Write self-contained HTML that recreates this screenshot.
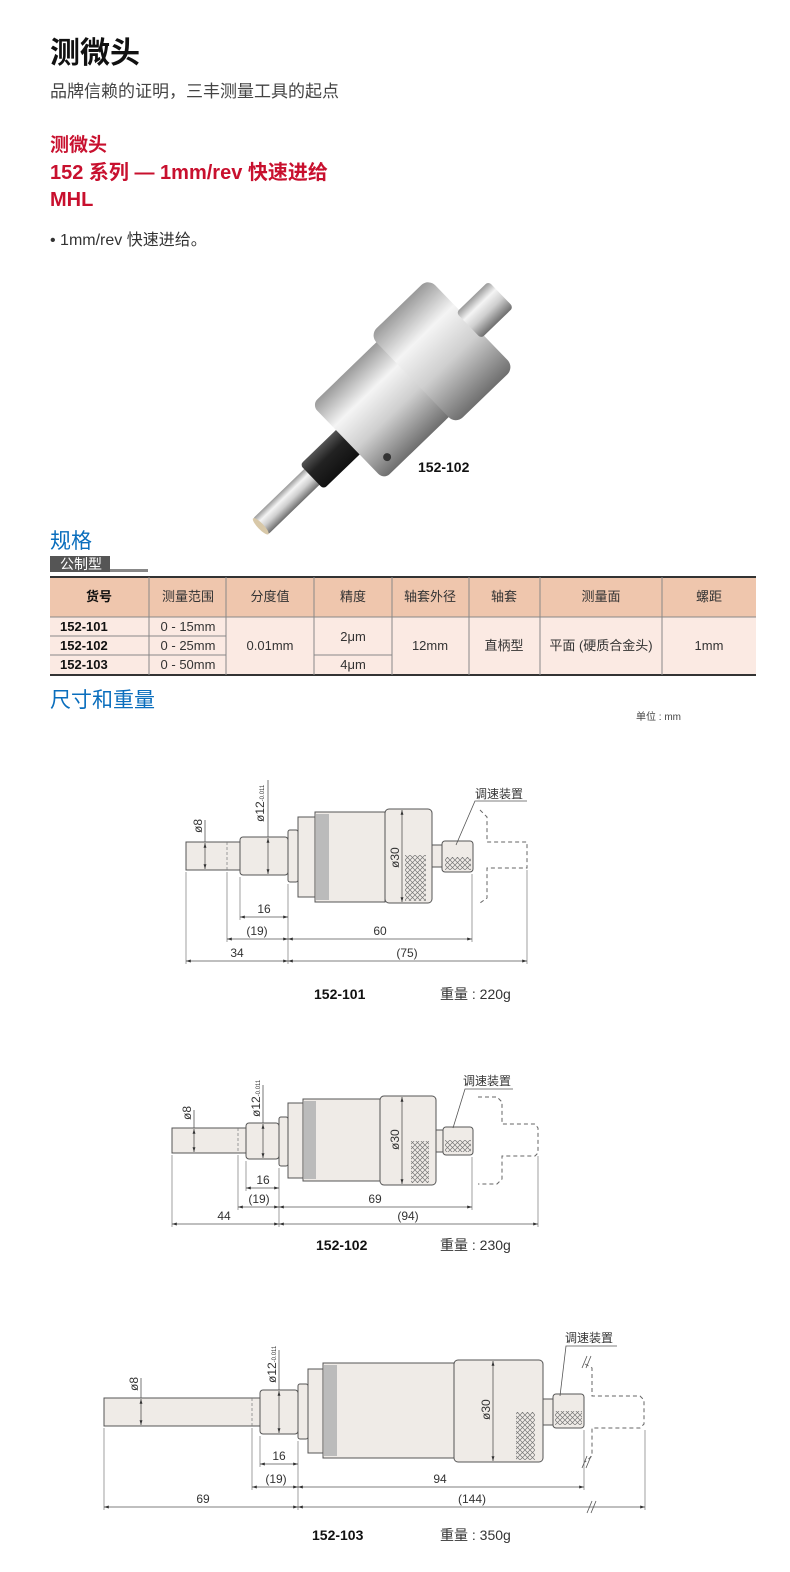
<!DOCTYPE html>
<html><head><meta charset="utf-8"><style>
html,body{margin:0;padding:0;background:#fff}
svg{display:block}
text{font-family:"Liberation Sans","Noto Sans CJK SC",sans-serif}
.d{font-size:12px;fill:#333}
.p{fill:#efebe7;stroke:#555;stroke-width:1}
.l{stroke:#555;stroke-width:0.8;fill:none}
.e{stroke:#777;stroke-width:0.7;fill:none}
.dash{stroke:#666;stroke-width:1;fill:none;stroke-dasharray:4,3}
.t{font-size:13px;fill:#333}
.tb{font-size:13px;fill:#111;font-weight:bold}
</style></head><body>
<svg width="790" height="1572" viewBox="0 0 790 1572" xmlns="http://www.w3.org/2000/svg">
<defs>
<marker id="a" viewBox="0 0 10 10" refX="10" refY="5" markerWidth="6" markerHeight="6" orient="auto-start-reverse"><path d="M0,2 L10,5 L0,8z" fill="#333"/></marker>
<pattern id="h" width="5" height="5" patternUnits="userSpaceOnUse"><path d="M0,0 L5,5 M5,0 L0,5" stroke="#777" stroke-width="0.7"/></pattern>
<linearGradient id="sv" x1="0" y1="0" x2="0" y2="1"><stop offset="0" stop-color="#9a9a9a"/><stop offset=".3" stop-color="#f4f4f4"/><stop offset=".6" stop-color="#cfcfcf"/><stop offset="1" stop-color="#6e6e6e"/></linearGradient>
<linearGradient id="bk" x1="0" y1="0" x2="0" y2="1"><stop offset="0" stop-color="#555"/><stop offset=".4" stop-color="#222"/><stop offset="1" stop-color="#111"/></linearGradient>
</defs>

<!-- header -->
<text x="50" y="63" style="font-size:30px;font-weight:bold" fill="#111">测微头</text>
<text x="50" y="97" style="font-size:17px" fill="#444">品牌信赖的证明，三丰测量工具的起点</text>
<text x="50" y="151" style="font-size:19px;font-weight:bold" fill="#c8102e">测微头</text>
<text x="50" y="179" style="font-size:20px;font-weight:bold" fill="#c8102e">152 系列 — 1mm/rev 快速进给</text>
<text x="50" y="206" style="font-size:20px;font-weight:bold" fill="#c8102e">MHL</text>
<text x="50" y="245" style="font-size:16px" fill="#333">• 1mm/rev 快速进给。</text>

<!-- photo -->
<g transform="translate(260,527) rotate(-44)">
<rect x="0" y="-11" width="80" height="22" fill="url(#sv)" rx="3"/>
<ellipse cx="1" cy="0" rx="3" ry="11" fill="#d8c8a8"/>
<rect x="72" y="-17" width="58" height="34" fill="url(#bk)" rx="4"/>
<rect x="122" y="-52" width="100" height="104" fill="url(#sv)" rx="8"/>
<rect x="158" y="-52" width="50" height="104" fill="url(#sv)" opacity=".8"/>
<rect x="212" y="-62" width="82" height="124" fill="url(#sv)" rx="10"/>
<rect x="290" y="-18" width="45" height="36" fill="url(#sv)" rx="4"/>
<circle cx="140" cy="38" r="4" fill="#333"/>
</g>
<text x="418" y="472" class="tb" style="font-size:14px">152-102</text>

<!-- specs -->
<text x="50" y="548" style="font-size:21px" fill="#0a6ebd">规格</text>
<rect x="50" y="556" width="60" height="16" fill="#555"/>
<text x="60" y="569" style="font-size:14px" fill="#fff">公制型</text>
<rect x="110" y="569" width="38" height="3" fill="#888"/>
<rect x="50" y="577" width="706" height="40" fill="#efc6ad"/>
<rect x="50" y="617" width="706" height="58" fill="#fbeae3"/>
<line x1="50" y1="577" x2="756" y2="577" stroke="#333" stroke-width="2"/>
<line x1="50" y1="675" x2="756" y2="675" stroke="#333" stroke-width="2"/>
<line x1="50" y1="617" x2="756" y2="617" stroke="#888" stroke-width="1"/>
<g stroke="#888" stroke-width="1">
<line x1="149" y1="577" x2="149" y2="675"/><line x1="226" y1="577" x2="226" y2="675"/>
<line x1="314" y1="577" x2="314" y2="675"/><line x1="392" y1="577" x2="392" y2="675"/>
<line x1="469" y1="577" x2="469" y2="675"/><line x1="540" y1="577" x2="540" y2="675"/>
<line x1="662" y1="577" x2="662" y2="675"/>
<line x1="50" y1="636" x2="226" y2="636"/><line x1="50" y1="655" x2="226" y2="655"/>
<line x1="314" y1="655" x2="392" y2="655"/>
</g>
<g text-anchor="middle">
<text x="99" y="601" class="tb">货号</text><text x="188" y="601" class="t">测量范围</text>
<text x="270" y="601" class="t">分度值</text><text x="353" y="601" class="t">精度</text>
<text x="430" y="601" class="t">轴套外径</text><text x="504" y="601" class="t">轴套</text>
<text x="601" y="601" class="t">测量面</text><text x="709" y="601" class="t">螺距</text>
<text x="188" y="631" class="t">0 - 15mm</text><text x="188" y="650" class="t">0 - 25mm</text><text x="188" y="669" class="t">0 - 50mm</text>
<text x="270" y="650" class="t">0.01mm</text><text x="353" y="641" class="t">2μm</text><text x="353" y="669" class="t">4μm</text>
<text x="430" y="650" class="t">12mm</text><text x="504" y="650" class="t">直柄型</text>
<text x="601" y="650" class="t">平面 (硬质合金头)</text><text x="709" y="650" class="t">1mm</text>
</g>
<text x="60" y="631" class="tb">152-101</text><text x="60" y="650" class="tb">152-102</text><text x="60" y="669" class="tb">152-103</text>
<text x="50" y="707" style="font-size:21px" fill="#0a6ebd">尺寸和重量</text>
<text x="636" y="720" style="font-size:10px" fill="#444">单位 : mm</text>

<!-- drawing 1 -->
<g>
<rect class="p" x="186" y="842" width="54" height="28"/>
<rect class="p" x="240" y="837" width="48" height="38" rx="3"/>
<rect class="p" x="288" y="830" width="10" height="52" rx="2"/>
<rect class="p" x="298" y="817" width="17" height="80"/>
<rect class="p" x="315" y="812" width="70" height="90"/>
<rect x="316" y="814" width="13" height="86" fill="#bbb"/>
<rect class="p" x="385" y="809" width="47" height="94" rx="4"/>
<rect x="405" y="855" width="21" height="46" fill="url(#h)"/>
<rect class="p" x="432" y="845" width="10" height="22"/>
<rect class="p" x="442" y="841" width="31" height="31" rx="3"/>
<rect x="445" y="857" width="26" height="13" fill="url(#h)"/>
<path class="dash" d="M480,810 L487,817 V842 H527 V868 H487 V898 L480,903"/>
<line class="e" x1="227" y1="842" x2="227" y2="870" stroke-dasharray="3,2"/>
<line class="l" x1="205" y1="820" x2="205" y2="842"/><line class="l" x1="205" y1="843" x2="205" y2="869" marker-start="url(#a)" marker-end="url(#a)"/>
<text class="d" transform="translate(202,833) rotate(-90)">ø8</text>
<line class="l" x1="268" y1="780" x2="268" y2="837"/><line class="l" x1="268" y1="838" x2="268" y2="874" marker-start="url(#a)" marker-end="url(#a)"/>
<text class="d" transform="translate(264,822) rotate(-90)">ø12<tspan font-size="6">-0.011</tspan></text>
<line class="l" x1="402" y1="810" x2="402" y2="902" marker-start="url(#a)" marker-end="url(#a)"/>
<text class="d" transform="translate(399,868) rotate(-90)">ø30</text>
<line class="e" x1="186" y1="872" x2="186" y2="964"/><line class="e" x1="227" y1="872" x2="227" y2="942"/>
<line class="e" x1="240" y1="877" x2="240" y2="920"/><line class="e" x1="288" y1="884" x2="288" y2="964"/>
<line class="e" x1="472" y1="874" x2="472" y2="942"/><line class="e" x1="527" y1="870" x2="527" y2="964"/>
<line class="l" x1="240" y1="917" x2="288" y2="917" marker-start="url(#a)" marker-end="url(#a)"/>
<line class="l" x1="227" y1="939" x2="288" y2="939" marker-start="url(#a)" marker-end="url(#a)"/>
<line class="l" x1="288" y1="939" x2="472" y2="939" marker-start="url(#a)" marker-end="url(#a)"/>
<line class="l" x1="186" y1="961" x2="288" y2="961" marker-start="url(#a)" marker-end="url(#a)"/>
<line class="l" x1="288" y1="961" x2="527" y2="961" marker-start="url(#a)" marker-end="url(#a)"/>
<g text-anchor="middle" class="d"><text x="264" y="913">16</text><text x="257" y="935">(19)</text><text x="380" y="935">60</text><text x="237" y="957">34</text><text x="407" y="957">(75)</text></g>
<text x="475" y="798" class="d" font-size="12">调速装置</text>
<polyline class="l" points="527,801 475,801 456,845"/>
<text x="314" y="999" class="tb" style="font-size:14px">152-101</text><text x="440" y="999" class="t" fill="#444" style="font-size:14px">重量 : 220g</text>
</g>

<!-- drawing 2 -->
<g>
<rect class="p" x="172" y="1128" width="74" height="25"/>
<rect class="p" x="246" y="1123" width="33" height="36" rx="3"/>
<rect class="p" x="279" y="1117" width="9" height="49" rx="2"/>
<rect class="p" x="288" y="1103" width="15" height="75"/>
<rect class="p" x="303" y="1099" width="77" height="82"/>
<rect x="304" y="1101" width="12" height="78" fill="#bbb"/>
<rect class="p" x="380" y="1096" width="56" height="89" rx="4"/>
<rect x="411" y="1141" width="18" height="42" fill="url(#h)"/>
<rect class="p" x="436" y="1130" width="7" height="22"/>
<rect class="p" x="443" y="1127" width="30" height="28" rx="3"/>
<rect x="445" y="1140" width="26" height="12" fill="url(#h)"/>
<path class="dash" d="M478,1097 H497 L502,1102 V1124 H535 L538,1128 V1153 L535,1156 H502 V1179 L497,1184 H478"/>
<line class="e" x1="238" y1="1128" x2="238" y2="1153" stroke-dasharray="3,2"/>
<line class="l" x1="194" y1="1110" x2="194" y2="1128"/><line class="l" x1="194" y1="1129" x2="194" y2="1152" marker-start="url(#a)" marker-end="url(#a)"/>
<text class="d" transform="translate(191,1120) rotate(-90)">ø8</text>
<line class="l" x1="263" y1="1085" x2="263" y2="1123"/><line class="l" x1="263" y1="1124" x2="263" y2="1158" marker-start="url(#a)" marker-end="url(#a)"/>
<text class="d" transform="translate(260,1117) rotate(-90)">ø12<tspan font-size="6">-0.011</tspan></text>
<line class="l" x1="402" y1="1097" x2="402" y2="1184" marker-start="url(#a)" marker-end="url(#a)"/>
<text class="d" transform="translate(399,1150) rotate(-90)">ø30</text>
<line class="e" x1="172" y1="1155" x2="172" y2="1227"/><line class="e" x1="238" y1="1155" x2="238" y2="1210"/>
<line class="e" x1="246" y1="1161" x2="246" y2="1191"/><line class="e" x1="279" y1="1168" x2="279" y2="1227"/>
<line class="e" x1="472" y1="1157" x2="472" y2="1210"/><line class="e" x1="538" y1="1156" x2="538" y2="1227"/>
<line class="l" x1="246" y1="1188" x2="279" y2="1188" marker-start="url(#a)" marker-end="url(#a)"/>
<line class="l" x1="238" y1="1207" x2="279" y2="1207" marker-start="url(#a)" marker-end="url(#a)"/>
<line class="l" x1="279" y1="1207" x2="472" y2="1207" marker-start="url(#a)" marker-end="url(#a)"/>
<line class="l" x1="172" y1="1224" x2="279" y2="1224" marker-start="url(#a)" marker-end="url(#a)"/>
<line class="l" x1="279" y1="1224" x2="538" y2="1224" marker-start="url(#a)" marker-end="url(#a)"/>
<g text-anchor="middle" class="d"><text x="263" y="1184">16</text><text x="259" y="1203">(19)</text><text x="375" y="1203">69</text><text x="224" y="1220">44</text><text x="408" y="1220">(94)</text></g>
<text x="463" y="1085" class="d" font-size="12">调速装置</text>
<polyline class="l" points="513,1089 465,1089 453,1128"/>
<text x="316" y="1250" class="tb" style="font-size:14px">152-102</text><text x="440" y="1250" class="t" fill="#444" style="font-size:14px">重量 : 230g</text>
</g>

<!-- drawing 3 -->
<g>
<rect class="p" x="104" y="1398" width="156" height="28"/>
<rect class="p" x="260" y="1390" width="38" height="44" rx="3"/>
<rect class="p" x="298" y="1384" width="10" height="55" rx="2"/>
<rect class="p" x="308" y="1369" width="15" height="84"/>
<rect class="p" x="323" y="1363" width="131" height="95"/>
<rect x="324" y="1365" width="13" height="91" fill="#bbb"/>
<rect class="p" x="454" y="1360" width="89" height="102" rx="4"/>
<rect x="516" y="1412" width="19" height="48" fill="url(#h)"/>
<rect class="p" x="543" y="1399" width="10" height="26"/>
<rect class="p" x="553" y="1394" width="31" height="34" rx="3"/>
<rect x="555" y="1411" width="27" height="14" fill="url(#h)"/>
<path class="dash" d="M585,1364 L592,1368 V1396 H640 L644,1400 V1424 L640,1428 H592 V1456 L585,1462"/>
<line class="e" x1="252" y1="1398" x2="252" y2="1426" stroke-dasharray="3,2"/>
<line class="l" x1="141" y1="1378" x2="141" y2="1398"/><line class="l" x1="141" y1="1399" x2="141" y2="1425" marker-start="url(#a)" marker-end="url(#a)"/>
<text class="d" transform="translate(138,1391) rotate(-90)">ø8</text>
<line class="l" x1="279" y1="1350" x2="279" y2="1390"/><line class="l" x1="279" y1="1391" x2="279" y2="1433" marker-start="url(#a)" marker-end="url(#a)"/>
<text class="d" transform="translate(276,1383) rotate(-90)">ø12<tspan font-size="6">-0.011</tspan></text>
<line class="l" x1="493" y1="1361" x2="493" y2="1461" marker-start="url(#a)" marker-end="url(#a)"/>
<text class="d" transform="translate(490,1420) rotate(-90)">ø30</text>
<line class="e" x1="104" y1="1428" x2="104" y2="1510"/><line class="e" x1="252" y1="1428" x2="252" y2="1490"/>
<line class="e" x1="260" y1="1436" x2="260" y2="1467"/><line class="e" x1="298" y1="1441" x2="298" y2="1510"/>
<line class="e" x1="584" y1="1430" x2="584" y2="1490"/><line class="e" x1="645" y1="1430" x2="645" y2="1510"/>
<line class="l" x1="260" y1="1464" x2="298" y2="1464" marker-start="url(#a)" marker-end="url(#a)"/>
<line class="l" x1="252" y1="1487" x2="298" y2="1487" marker-start="url(#a)" marker-end="url(#a)"/>
<line class="l" x1="298" y1="1487" x2="584" y2="1487" marker-start="url(#a)" marker-end="url(#a)"/>
<line class="l" x1="104" y1="1507" x2="298" y2="1507" marker-start="url(#a)" marker-end="url(#a)"/>
<line class="l" x1="298" y1="1507" x2="645" y2="1507" marker-start="url(#a)" marker-end="url(#a)"/>
<path class="l" d="M587,1513 L592,1501 M591,1513 L596,1501 M582,1368 L587,1356 M586,1368 L591,1356 M582,1468 L587,1456 M586,1468 L591,1456"/>
<g text-anchor="middle" class="d"><text x="279" y="1460">16</text><text x="276" y="1483">(19)</text><text x="440" y="1483">94</text><text x="203" y="1503">69</text><text x="472" y="1503">(144)</text></g>
<text x="565" y="1342" class="d" font-size="12">调速装置</text>
<polyline class="l" points="617,1346 566,1346 560,1396"/>
<text x="312" y="1540" class="tb" style="font-size:14px">152-103</text><text x="440" y="1540" class="t" fill="#444" style="font-size:14px">重量 : 350g</text>
</g>
</svg>
</body></html>
